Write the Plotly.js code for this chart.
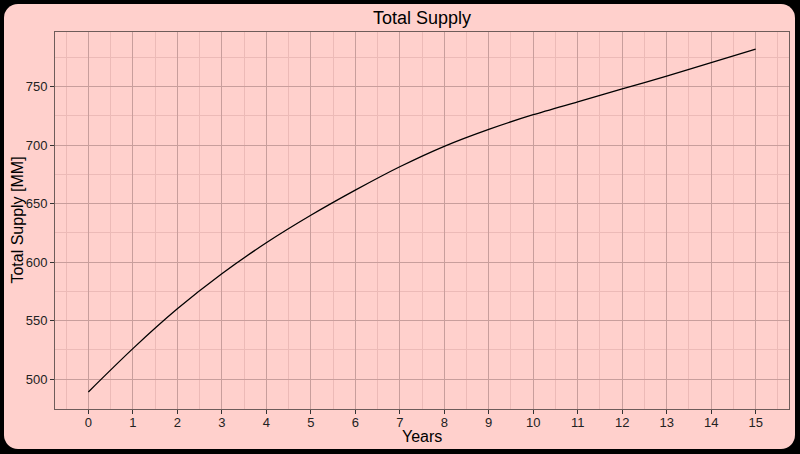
<!DOCTYPE html>
<html>
<head>
<meta charset="utf-8">
<script src="https://cdn.plot.ly/plotly-3.0.1.min.js"></script>
<style>
  html, body { margin:0; padding:0; background:#000; width:800px; height:454px; overflow:hidden; }
  #bg { position:absolute; left:4px; top:4px; width:791px; height:445px; background:rgb(255,208,204); border-radius:14px; }
  #chart { position:absolute; left:0; top:0; width:800px; height:454px; }
</style>
</head>
<body>
<div id="bg"></div>
<div id="chart"></div>
<script>
const years = [0, 1, 2, 3, 4, 5, 6, 7, 8, 9, 10, 11, 12, 13, 14, 15];
const totalSupply = [489, 526, 560, 590, 616.5, 640, 661.5, 681.5, 699, 713.5, 726, 737, 748, 759, 770.5, 782];
const xTickVals = [0, 1, 2, 3, 4, 5, 6, 7, 8, 9, 10, 11, 12, 13, 14, 15];
const yTickVals = [500, 550, 600, 650, 700, 750];

const pink = 'rgb(255,208,204)';
const majorGrid = 'rgb(200,158,156)';
const minorGrid = 'rgb(236,186,183)';
const axisCol = 'rgb(110,92,90)';
const fontFam = 'Liberation Sans, Arial, sans-serif';

const trace = {
  x: years,
  y: totalSupply,
  type: 'scatter',
  mode: 'lines',
  line: { color: '#000', width: 1.3, shape: 'spline', smoothing: 0.8 },
  hoverinfo: 'skip'
};

const axisFont = { family: fontFam, size: 13, color: '#222' };

const layout = {
  width: 800,
  height: 454,
  margin: { l: 55, r: 11, t: 32, b: 45 },
  paper_bgcolor: 'rgba(0,0,0,0)',
  plot_bgcolor: pink,
  showlegend: false,
  title: {
    text: 'Total Supply',
    font: { family: fontFam, size: 18, color: '#000' },
    x: 0.5, xref: 'paper', xanchor: 'center',
    y: 0.96, yref: 'container', yanchor: 'middle'
  },
  xaxis: {
    range: [-0.75, 15.75],
    tickmode: 'array',
    tickvals: xTickVals,
    ticks: 'outside', ticklen: 4, tickcolor: '#333', tickwidth: 1,
    tickfont: axisFont,
    ticklabelstandoff: -3,
    showgrid: true, gridcolor: majorGrid, gridwidth: 1,
    minor: { tickmode: 'linear', dtick: 0.5, tick0: 0, showgrid: true, gridcolor: minorGrid, gridwidth: 1, ticks: '' },
    showline: true, linecolor: axisCol, linewidth: 1, mirror: true,
    zeroline: false
  },
  yaxis: {
    range: [474.4, 796.7],
    tickmode: 'array',
    tickvals: yTickVals,
    ticks: 'outside', ticklen: 4, tickcolor: '#333', tickwidth: 1,
    tickfont: axisFont,
    showgrid: true, gridcolor: majorGrid, gridwidth: 1,
    minor: { tickmode: 'linear', dtick: 25, tick0: 500, showgrid: true, gridcolor: minorGrid, gridwidth: 1, ticks: '' },
    showline: true, linecolor: axisCol, linewidth: 1, mirror: true,
    zeroline: false
  },
  annotations: [
    {
      text: 'Years', showarrow: false,
      xref: 'paper', x: 0.5, xanchor: 'center',
      yref: 'paper', y: -0.072, yanchor: 'middle',
      font: { family: fontFam, size: 16, color: '#000' }
    },
    {
      text: 'Total Supply [MM]', showarrow: false, textangle: -90,
      xref: 'paper', x: -0.0517, xanchor: 'center',
      yref: 'paper', y: 0.5, yanchor: 'middle',
      font: { family: fontFam, size: 16, color: '#000' }
    }
  ]
};

Plotly.newPlot('chart', [trace], layout, { displayModeBar: false, staticPlot: true });
</script>
</body>
</html>
